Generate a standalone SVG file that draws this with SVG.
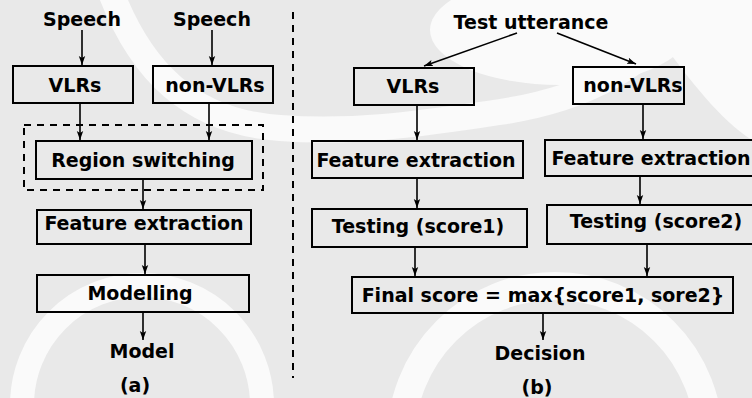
<svg xmlns="http://www.w3.org/2000/svg" width="752" height="398" viewBox="0 0 752 398">
<style>
  .box { fill: none; stroke: #000; stroke-width: 2; }
  .t { font-family: "DejaVu Sans", "Liberation Sans", sans-serif; font-weight: bold; font-size: 19px; fill: #000; text-anchor: middle; }
  .c { stroke: #000; stroke-width: 1.6; fill: none; marker-end: url(#ah); }
  .dash { fill: none; stroke: #000; stroke-width: 2; stroke-dasharray: 7 6; }
  .wb { fill: none; stroke: #fafafa; }
</style>
<defs>
  <marker id="ah" markerWidth="10" markerHeight="8" refX="9" refY="4" orient="auto" markerUnits="userSpaceOnUse">
    <path d="M0,0.8 L9,4 L0,7.2 L2,4 Z" fill="#000"/>
  </marker>
</defs>
<rect width="752" height="398" fill="#e9e9e9"/>
<g id="watermark">
  <ellipse cx="560" cy="30" rx="130" ry="55" fill="#fafafa"/>
  <circle class="wb" cx="142" cy="405" r="120" stroke-width="24"/>
  <circle class="wb" cx="555" cy="440" r="154" stroke-width="28"/>
  <path class="wb" stroke-width="26" d="M110,-10 C140,70 190,122 280,128 C360,134 430,122 500,112 C580,100 650,70 700,-10"/>
  <path fill="#fafafa" d="M620,0 L752,0 L752,140 C720,120 690,80 660,40 Z"/>
</g>
<g id="connectors">
  <line class="c" x1="82" y1="30" x2="82" y2="65"/>
  <line class="c" x1="212" y1="30" x2="212" y2="65"/>
  <line class="c" x1="80" y1="104" x2="80" y2="140"/>
  <line class="c" x1="209" y1="104" x2="209" y2="140"/>
  <line class="c" x1="143" y1="180" x2="143" y2="209"/>
  <line class="c" x1="145" y1="245" x2="145" y2="274"/>
  <line class="c" x1="143" y1="313" x2="143" y2="340"/>
  <line class="c" x1="517" y1="33" x2="424" y2="66"/>
  <line class="c" x1="557" y1="33" x2="636" y2="64"/>
  <line class="c" x1="417" y1="106" x2="417" y2="140"/>
  <line class="c" x1="643" y1="105" x2="643" y2="139"/>
  <line class="c" x1="417" y1="179" x2="417" y2="208"/>
  <line class="c" x1="640" y1="177" x2="640" y2="204"/>
  <line class="c" x1="415" y1="248" x2="415" y2="276"/>
  <line class="c" x1="647" y1="245" x2="647" y2="276"/>
  <line class="c" x1="543" y1="314" x2="543" y2="340"/>
</g>
<line id="divider" x1="293" y1="12" x2="293" y2="378" class="dash"/>
<g id="speech-a"><text class="t" x="82" y="26">Speech</text></g>
<g id="speech-b"><text class="t" x="212" y="26">Speech</text></g>
<g id="vlrs-a"><rect class="box" x="13" y="66" width="120" height="37"/><text class="t" x="75" y="92">VLRs</text></g>
<g id="nonvlrs-a"><rect class="box" x="153" y="66" width="120" height="37"/><text class="t" x="215" y="92">non-VLRs</text></g>
<g id="switch-group"><rect class="dash" x="24" y="125" width="239" height="65"/></g>
<g id="region-switching"><rect class="box" x="36" y="141" width="216" height="38"/><text class="t" x="143" y="167">Region switching</text></g>
<g id="feature-a"><rect class="box" x="37" y="210" width="214" height="34"/><text class="t" x="144" y="230">Feature extraction</text></g>
<g id="modelling"><rect class="box" x="37" y="275" width="212" height="37"/><text class="t" x="140" y="300">Modelling</text></g>
<g id="model"><text class="t" x="142" y="358">Model</text></g>
<g id="label-a"><text class="t" x="135" y="392">(a)</text></g>
<g id="test-utterance"><text class="t" x="531" y="29">Test utterance</text></g>
<g id="vlrs-b"><rect class="box" x="354" y="68" width="120" height="37"/><text class="t" x="413" y="93">VLRs</text></g>
<g id="nonvlrs-b"><rect class="box" x="573" y="67" width="111" height="37"/><text class="t" x="633" y="92">non-VLRs</text></g>
<g id="feature-b1"><rect class="box" x="312" y="141" width="211" height="37"/><text class="t" x="416" y="167">Feature extraction</text></g>
<g id="feature-b2"><rect class="box" x="545" y="140" width="215" height="36"/><text class="t" x="651" y="165">Feature extraction</text></g>
<g id="testing1"><rect class="box" x="312" y="209" width="215" height="38"/><text class="t" x="418" y="233">Testing (score1)</text></g>
<g id="testing2"><rect class="box" x="547" y="205" width="215" height="39"/><text class="t" x="656" y="228">Testing (score2)</text></g>
<g id="final-score"><rect class="box" x="352" y="277" width="381" height="36"/><text class="t" x="543" y="302">Final score = max{score1, sore2}</text></g>
<g id="decision"><text class="t" x="540" y="360">Decision</text></g>
<g id="label-b"><text class="t" x="537" y="394">(b)</text></g>
</svg>
